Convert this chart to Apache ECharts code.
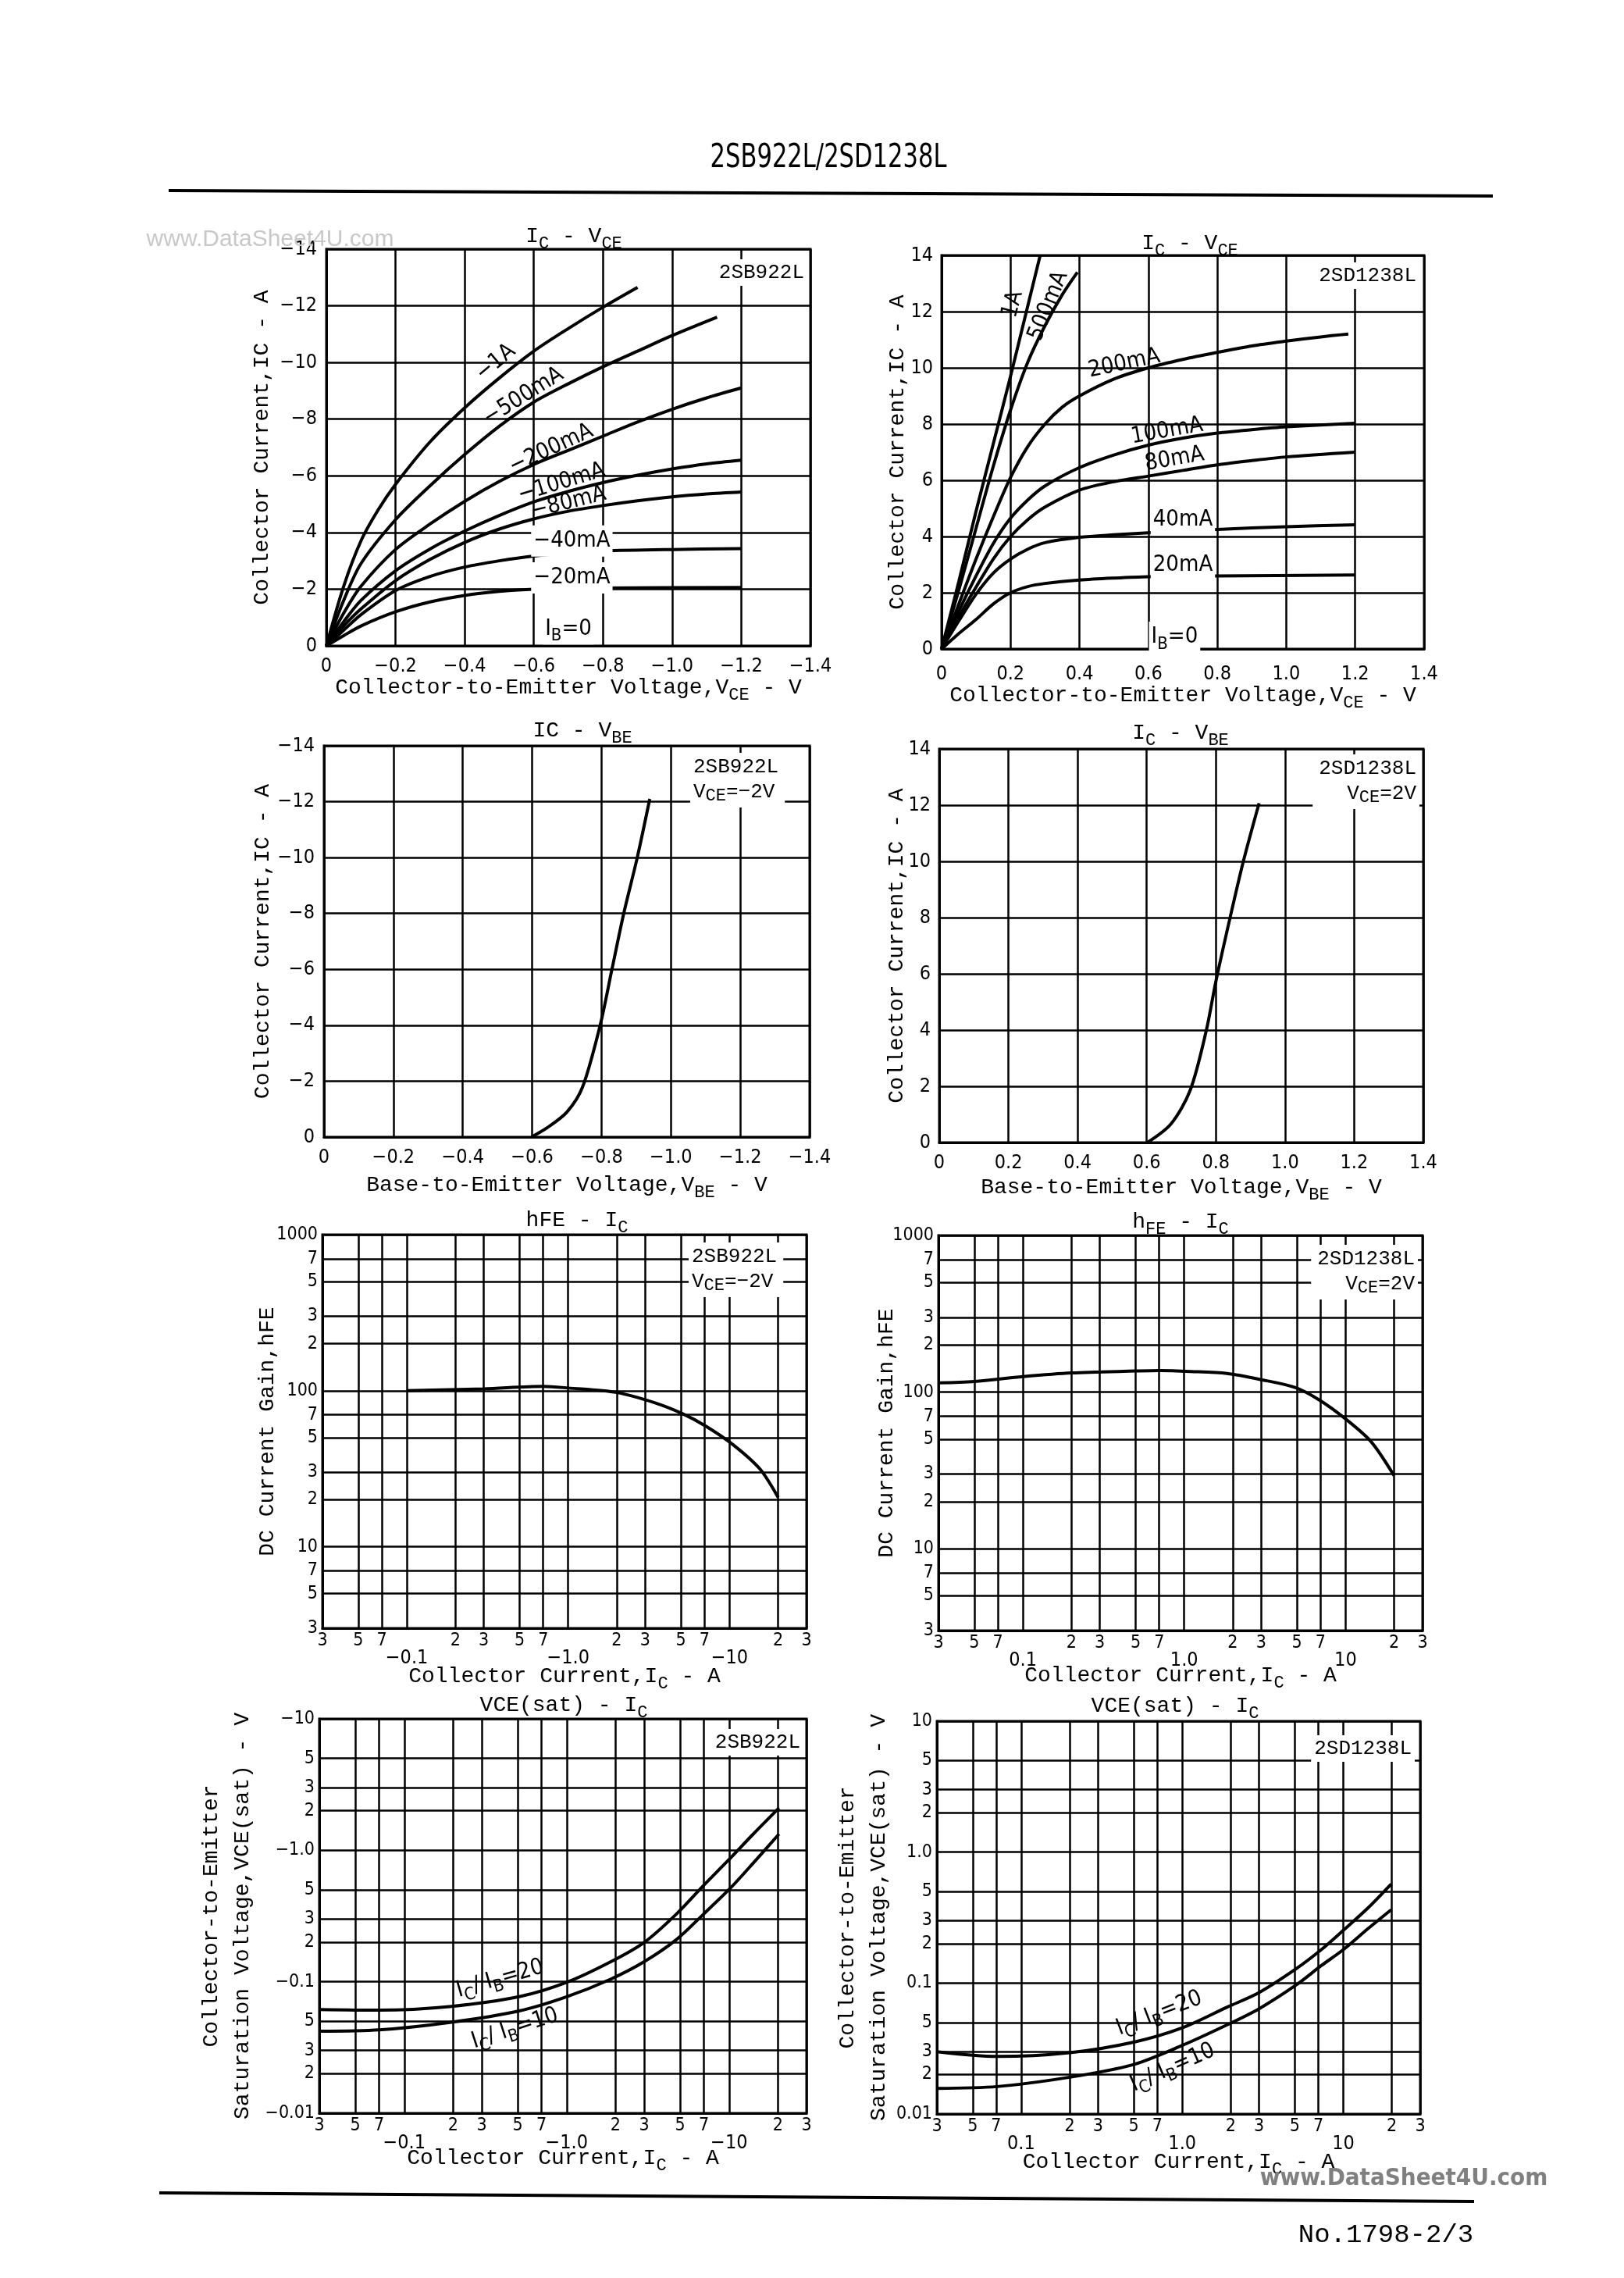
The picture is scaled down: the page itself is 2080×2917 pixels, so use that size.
<!DOCTYPE html>
<html>
<head>
<meta charset="utf-8">
<title>2SB922L/2SD1238L</title>
<script src="https://cdn.jsdelivr.net/npm/echarts@6.0.0/dist/echarts.min.js"></script>
<style>
  html, body { margin: 0; padding: 0; background: #fff; }
  #page { width: 2080px; height: 2917px; }
</style>
</head>
<body>
<div id="page"></div>
<script>
// ---------- values ----------

// 2SB922L  IC - VCE   [VCE (V), IC (A)]
const pnpVce1A    = [[0, 0], [-0.05, -2.1], [-0.1, -3.7], [-0.15, -4.8], [-0.2, -5.7], [-0.3, -7.2], [-0.4, -8.4], [-0.5, -9.45], [-0.6, -10.4], [-0.7, -11.2], [-0.8, -11.95], [-0.9, -12.65]];
const pnpVce500mA = [[0, 0], [-0.05, -1.6], [-0.1, -2.9], [-0.2, -4.45], [-0.3, -5.65], [-0.4, -6.75], [-0.5, -7.75], [-0.6, -8.6], [-0.7, -9.25], [-0.8, -9.85], [-0.9, -10.4], [-1.0, -10.95], [-1.13, -11.6]];
const pnpVce200mA = [[0, 0], [-0.05, -1.15], [-0.1, -2.1], [-0.2, -3.4], [-0.3, -4.3], [-0.4, -5.1], [-0.5, -5.8], [-0.6, -6.4], [-0.7, -6.9], [-0.8, -7.4], [-0.9, -7.9], [-1.0, -8.35], [-1.1, -8.75], [-1.2, -9.1]];
const pnpVce100mA = [[0, 0], [-0.05, -0.85], [-0.1, -1.6], [-0.2, -2.65], [-0.3, -3.42], [-0.4, -4.05], [-0.5, -4.6], [-0.6, -5.08], [-0.7, -5.45], [-0.8, -5.76], [-0.9, -6.02], [-1.0, -6.24], [-1.1, -6.42], [-1.2, -6.55]];
const pnpVce80mA  = [[0, 0], [-0.05, -0.7], [-0.1, -1.3], [-0.2, -2.3], [-0.3, -3.05], [-0.4, -3.65], [-0.5, -4.12], [-0.6, -4.48], [-0.7, -4.75], [-0.8, -4.95], [-0.9, -5.12], [-1.0, -5.26], [-1.1, -5.36], [-1.2, -5.43]];
const pnpVce40mA  = [[0, 0], [-0.05, -0.55], [-0.1, -1.1], [-0.2, -1.95], [-0.3, -2.45], [-0.4, -2.78], [-0.5, -3.0], [-0.6, -3.17], [-0.7, -3.28], [-0.8, -3.35], [-1.0, -3.4], [-1.2, -3.43]];
const pnpVce20mA  = [[0, 0], [-0.05, -0.36], [-0.1, -0.7], [-0.2, -1.2], [-0.3, -1.55], [-0.4, -1.78], [-0.5, -1.92], [-0.6, -2.0], [-0.8, -2.04], [-1.2, -2.06]];

// 2SD1238L  IC - VCE
const npnVce1A    = [[0, 0], [0.05, 2.4], [0.1, 4.9], [0.15, 7.3], [0.2, 9.7], [0.25, 12.2], [0.286, 14]];
const npnVce500mA = [[0, 0], [0.05, 2.1], [0.1, 4.3], [0.15, 6.5], [0.2, 8.5], [0.25, 10.2], [0.3, 11.5], [0.35, 12.6], [0.394, 13.4]];
const npnVce200mA = [[0, 0], [0.05, 1.6], [0.1, 3.2], [0.15, 4.7], [0.2, 6.1], [0.25, 7.2], [0.3, 8.0], [0.35, 8.6], [0.4, 9.0], [0.5, 9.6], [0.6, 10.0], [0.7, 10.3], [0.8, 10.55], [0.9, 10.78], [1.0, 10.95], [1.1, 11.1], [1.18, 11.2]];
const npnVce100mA = [[0, 0], [0.05, 1.35], [0.1, 2.6], [0.15, 3.75], [0.2, 4.65], [0.25, 5.3], [0.3, 5.8], [0.4, 6.45], [0.5, 6.9], [0.6, 7.25], [0.7, 7.5], [0.8, 7.68], [0.9, 7.8], [1.0, 7.9], [1.2, 8.03]];
const npnVce80mA  = [[0, 0], [0.05, 1.15], [0.1, 2.2], [0.15, 3.2], [0.2, 4.0], [0.25, 4.6], [0.3, 5.05], [0.4, 5.65], [0.5, 5.95], [0.6, 6.15], [0.7, 6.35], [0.8, 6.55], [0.9, 6.7], [1.0, 6.83], [1.2, 7.0]];
const npnVce40mA  = [[0, 0], [0.05, 1.0], [0.1, 1.95], [0.15, 2.7], [0.2, 3.2], [0.25, 3.55], [0.3, 3.78], [0.4, 3.97], [0.5, 4.06], [0.6, 4.13], [0.8, 4.25], [1.0, 4.35], [1.2, 4.42]];
const npnVce20mA  = [[0, 0], [0.05, 0.55], [0.1, 1.05], [0.15, 1.6], [0.2, 2.0], [0.25, 2.22], [0.3, 2.33], [0.4, 2.45], [0.5, 2.52], [0.6, 2.57], [0.8, 2.6], [1.2, 2.63]];

// IC - VBE   [VBE (V), IC (A)]
const pnpVbe = [[-0.598, 0], [-0.643, -0.33], [-0.7, -0.89], [-0.745, -1.78], [-0.796, -4.0], [-0.83, -6.0], [-0.864, -8.0], [-0.903, -10.0], [-0.939, -12.1]];
const npnVbe = [[0.602, 0], [0.67, 0.66], [0.726, 1.87], [0.772, 3.97], [0.8, 5.73], [0.84, 7.94], [0.879, 9.98], [0.925, 12.07]];

// hFE - IC  (|IC| in A)
const pnpHfeIc = [0.1, 0.3, 0.7, 1.0, 2.0, 3.45, 5.1, 7.1, 10.5, 15.5, 20];
const pnpHfe   = [100, 102.8, 106.6, 104, 97.3, 83.6, 71.3, 59.4, 45.1, 31.3, 20.7];
const npnHfeIc = [0.03, 0.05, 0.1, 0.2, 0.5, 0.7, 1.1, 1.84, 3.0, 4.86, 6.85, 10.2, 14.4, 20];
const npnHfe   = [114.6, 117, 125.6, 132.6, 136.3, 137.3, 135.4, 131.4, 120, 107, 89.2, 66.3, 48.2, 29.2];

// VCE(sat) - IC  (|IC| in A, |VCE(sat)| in V)
const pnpSatIc20 = [0.03, 0.07, 0.195, 0.51, 1.0, 1.87, 3.0, 4.76, 7.0, 9.8, 14.1, 20.3];
const pnpSat20   = [0.0615, 0.0608, 0.065, 0.077, 0.099, 0.142, 0.199, 0.329, 0.544, 0.83, 1.33, 2.1];
const pnpSatIc10 = [0.03, 0.07, 0.195, 0.51, 1.0, 1.86, 3.0, 4.76, 7.0, 10.2, 14.1, 20.3];
const pnpSat10   = [0.042, 0.043, 0.0492, 0.06, 0.0769, 0.1045, 0.142, 0.21, 0.329, 0.516, 0.8, 1.33];
const npnSatIc   = [0.03, 0.071, 0.2, 0.5, 1.0, 1.9, 3.0, 5.1, 7.3, 10, 14.2, 19.8];
const npnSat20   = [0.0299, 0.0275, 0.0294, 0.0354, 0.0455, 0.0655, 0.0846, 0.1287, 0.18, 0.253, 0.374, 0.57];
const npnSat10   = [0.0157, 0.0162, 0.0191, 0.0239, 0.0334, 0.048, 0.0637, 0.0968, 0.136, 0.18, 0.26, 0.363];

// tick values and labels
const currentTicks = [0.03, 0.05, 0.07, 0.1, 0.2, 0.3, 0.5, 0.7, 1, 2, 3, 5, 7, 10, 20, 30];
const currentDecades = [0.1, 1, 10];
const pnpCurrentDecadeLabels = ['−0.1', '−1.0', '−10'];
const npnCurrentDecadeLabels = ['0.1', '1.0', '10'];
const hfeTicks = [3, 5, 7, 10, 20, 30, 50, 70, 100, 200, 300, 500, 700, 1000];
const hfeDecades = [10, 100, 1000];
const hfeDecadeLabels = ['10', '100', '1000'];
const satTicks = [0.01, 0.02, 0.03, 0.05, 0.1, 0.2, 0.3, 0.5, 1, 2, 3, 5, 10];
const satDecades = [0.01, 0.1, 1, 10];
const pnpSatDecadeLabels = ['−0.01', '−0.1', '−1.0', '−10'];
const npnSatDecadeLabels = ['0.01', '0.1', '1.0', '10'];

// ---------- look ----------
const INK = '#000';
const NUM_FONT = "'DejaVu Sans Condensed','Liberation Sans Narrow','Liberation Sans',sans-serif";
const TXT_FONT = "'Liberation Mono','DejaVu Sans Mono',monospace";
const SANS = "'Liberation Sans','DejaVu Sans',sans-serif";

// plot rectangles on the page: [left, top, width, height]
const plots = [
  [418, 319, 620, 508],
  [1206, 327, 618, 504],
  [415, 955, 622, 501],
  [1203, 959, 620, 504],
  [413, 1581, 620, 504],
  [1202, 1582, 620, 506],
  [409, 2201, 624, 505],
  [1200, 2204, 619, 503]
];

const lg = Math.log10;

// subscript token: smaller, pushed to the bottom of the line
function richFor(lh, font) {
  return { s: { fontFamily: font || TXT_FONT, fontSize: 22, lineHeight: Math.round(lh * 0.58), verticalAlign: 'bottom', color: INK } };
}

function leadDigit(v) {
  const r = Math.pow(10, v);
  const e = Math.floor(Math.log10(r) + 1e-9);
  return String(Math.round(r / Math.pow(10, e)));
}

function decadeFmt(decades, labels) {
  return function (v) {
    const i = decades.findIndex(d => Math.abs(lg(d) - v) < 1e-6);
    return i >= 0 ? labels[i] : leadDigit(v);
  };
}

const negFix = v => (v === 0 ? '0' : '−' + Math.abs(v).toFixed(1));
const negInt = v => (v === 0 ? '0' : '−' + Math.abs(Math.round(v)));
const posFix = v => (v === 0 ? '0' : v.toFixed(1));
const posInt = v => String(Math.round(v));

function axisBase(gridIndex) {
  return {
    gridIndex: gridIndex,
    type: 'value',
    axisLine: { show: true, onZero: false, lineStyle: { color: INK, width: 3 } },
    axisTick: { show: false },
    splitLine: { show: true, lineStyle: { color: INK, width: 2.5 } },
    axisLabel: { color: INK, fontFamily: NUM_FONT, fontSize: 25 },
    nameLocation: 'middle',
    nameMoveOverlap: false,
    nameTextStyle: { color: INK, fontFamily: TXT_FONT, fontSize: 28, lineHeight: 40, rich: richFor(40) }
  };
}

function linAxis(gridIndex, min, max, step, inverse, fmt, margin, name, nameGap, vertical) {
  const a = axisBase(gridIndex);
  a.min = min;
  a.max = max;
  a.interval = step;
  a.inverse = inverse;
  a.axisLabel.formatter = fmt;
  a.axisLabel.margin = margin;
  if (name) {
    a.name = name;
    a.nameGap = nameGap;
    if (vertical) a.nameRotate = 90;
  }
  return a;
}

function logAxis(gridIndex, ticks, labelTicks, fmt, margin, name, nameGap, vertical) {
  const a = axisBase(gridIndex);
  a.min = lg(ticks[0]);
  a.max = lg(ticks[ticks.length - 1]);
  a.axisTick.customValues = ticks.map(lg);
  a.axisLabel.customValues = labelTicks.map(lg);
  a.axisLabel.formatter = fmt;
  a.axisLabel.margin = margin;
  a.axisLabel.fontSize = 23;
  if (name) {
    a.name = name;
    a.nameGap = nameGap;
    if (vertical) a.nameRotate = 90;
  }
  return a;
}

// second row under a log axis: the decade labels
function decadeAxis(gridIndex, ticks, decades, labels) {
  return {
    gridIndex: gridIndex,
    type: 'value',
    position: 'bottom',
    offset: 21,
    min: lg(ticks[0]),
    max: lg(ticks[ticks.length - 1]),
    axisLine: { show: false },
    axisTick: { show: false },
    splitLine: { show: false },
    axisLabel: {
      color: INK, fontFamily: NUM_FONT, fontSize: 25, margin: 5,
      customValues: decades.map(lg),
      formatter: decadeFmt(decades, labels)
    }
  };
}

const notDecade = (ticks, decades) => ticks.filter(t => decades.indexOf(t) < 0);

const xAxes = [
  linAxis(0, -1.4, 0, 0.2, true, negFix, 14, 'Collector-to-Emitter Voltage,V{s|CE} - V', 34),
  linAxis(1, 0, 1.4, 0.2, false, posFix, 20, 'Collector-to-Emitter Voltage,V{s|CE} - V', 40),
  linAxis(2, -1.4, 0, 0.2, true, negFix, 14, 'Base-to-Emitter Voltage,V{s|BE} - V', 42),
  linAxis(3, 0, 1.4, 0.2, false, posFix, 14, 'Base-to-Emitter Voltage,V{s|BE} - V', 38),
  logAxis(4, currentTicks, notDecade(currentTicks, currentDecades), leadDigit, 5, 'Collector Current,I{s|C} - A', 42),
  decadeAxis(4, currentTicks, currentDecades, pnpCurrentDecadeLabels),
  logAxis(5, currentTicks, notDecade(currentTicks, currentDecades), leadDigit, 5, 'Collector Current,I{s|C} - A', 38),
  decadeAxis(5, currentTicks, currentDecades, npnCurrentDecadeLabels),
  logAxis(6, currentTicks, notDecade(currentTicks, currentDecades), leadDigit, 5, 'Collector Current,I{s|C} - A', 38),
  decadeAxis(6, currentTicks, currentDecades, pnpCurrentDecadeLabels),
  logAxis(7, currentTicks, notDecade(currentTicks, currentDecades), leadDigit, 5, 'Collector Current,I{s|C} - A', 42),
  decadeAxis(7, currentTicks, currentDecades, npnCurrentDecadeLabels)
];

const yAxes = [
  linAxis(0, -14, 0, 2, true, negInt, 12, 'Collector Current,IC - A', 62, true),
  linAxis(1, 0, 14, 2, false, posInt, 11, 'Collector Current,IC - A', 36, true),
  linAxis(2, -14, 0, 2, true, negInt, 12, 'Collector Current,IC - A', 58, true),
  linAxis(3, 0, 14, 2, false, posInt, 11, 'Collector Current,IC - A', 34, true),
  logAxis(4, hfeTicks, hfeTicks, decadeFmt(hfeDecades, hfeDecadeLabels), 6, 'DC Current Gain,hFE', 50, true),
  logAxis(5, hfeTicks, hfeTicks, decadeFmt(hfeDecades, hfeDecadeLabels), 6, 'DC Current Gain,hFE', 46, true),
  logAxis(6, satTicks, satTicks, decadeFmt(satDecades, pnpSatDecadeLabels), 6, 'Collector-to-Emitter\nSaturation Voltage,VCE(sat) - V', 78, true),
  logAxis(7, satTicks, satTicks, decadeFmt(satDecades, npnSatDecadeLabels), 6, 'Collector-to-Emitter\nSaturation Voltage,VCE(sat) - V', 54, true)
];

function curve(xi, yi, data) {
  return {
    type: 'line', xAxisIndex: xi, yAxisIndex: yi, data: data,
    symbol: 'none', smooth: 0.3, silent: true, z: 5,
    lineStyle: { color: INK, width: 4 }
  };
}
const logPairs = (xs, ys) => xs.map((x, i) => [lg(x), lg(ys[i])]);

const series = [
  curve(0, 0, pnpVce1A), curve(0, 0, pnpVce500mA), curve(0, 0, pnpVce200mA), curve(0, 0, pnpVce100mA),
  curve(0, 0, pnpVce80mA), curve(0, 0, pnpVce40mA), curve(0, 0, pnpVce20mA),
  curve(1, 1, npnVce1A), curve(1, 1, npnVce500mA), curve(1, 1, npnVce200mA), curve(1, 1, npnVce100mA),
  curve(1, 1, npnVce80mA), curve(1, 1, npnVce40mA), curve(1, 1, npnVce20mA),
  curve(2, 2, pnpVbe),
  curve(3, 3, npnVbe),
  curve(4, 4, logPairs(pnpHfeIc, pnpHfe)),
  curve(6, 5, logPairs(npnHfeIc, npnHfe)),
  curve(8, 6, logPairs(pnpSatIc20, pnpSat20)),
  curve(8, 6, logPairs(pnpSatIc10, pnpSat10)),
  curve(10, 7, logPairs(npnSatIc, npnSat20)),
  curve(10, 7, logPairs(npnSatIc, npnSat10))
];

const option = {
  animation: false,
  backgroundColor: '#fff',
  grid: plots.map(p => ({
    left: p[0], top: p[1], width: p[2], height: p[3],
    show: true, borderColor: INK, borderWidth: 3
  })),
  xAxis: xAxes,
  yAxis: yAxes,
  series: series
};

const chart = echarts.init(document.getElementById('page'), null, { renderer: 'canvas' });
chart.setOption(option);

// ---------- texts ----------
function label(x, y, text, o) {
  o = o || {};
  const lh = o.lh || 40;
  return {
    type: 'text', x: x, y: y, z: 100,
    rotation: (o.rot || 0) * Math.PI / 180,
    scaleY: o.sy || 1,
    silent: true,
    style: {
      text: text,
      fill: o.color || INK,
      fontFamily: o.font || TXT_FONT,
      fontSize: o.size || 28,
      fontWeight: o.weight || 'normal',
      lineHeight: lh,
      align: o.align || 'center',
      verticalAlign: o.valign || 'middle',
      backgroundColor: o.bg,
      padding: o.pad,
      rich: richFor(lh, o.font)
    }
  };
}

const graphics = [
  { type: 'line', silent: true, shape: { x1: 216, y1: 244, x2: 1912, y2: 251 }, style: { stroke: INK, lineWidth: 4 } },
  { type: 'line', silent: true, shape: { x1: 204, y1: 2808, x2: 1888, y2: 2819 }, style: { stroke: INK, lineWidth: 4 } },
  label(1061, 203, '2SB922L/2SD1238L', { font: NUM_FONT, size: 34, sy: 1.25 }),
  label(1775, 2862, 'No.1798-2/3', { size: 34 }),
  label(346, 307, 'www.DataSheet4U.com', { font: SANS, size: 30, color: '#c8c8c8' }),
  label(1798, 2790, 'www.DataSheet4U.com', { font: NUM_FONT, size: 31, weight: 'bold', color: '#808080' }),

  // chart titles
  label(735, 303, 'I{s|C} - V{s|CE}'),
  label(1524, 312, 'I{s|C} - V{s|CE}'),
  label(746, 936, 'IC - V{s|BE}'),
  label(1512, 939, 'I{s|C} - V{s|BE}'),
  label(739, 1563, 'hFE - I{s|C}'),
  label(1512, 1565, 'h{s|FE} - I{s|C}'),
  label(722, 2184, 'VCE(sat) - I{s|C}'),
  label(1505, 2185, 'VCE(sat) - I{s|C}'),

  // device boxes
  label(1034, 332, '2SB922L', { size: 26, align: 'right', valign: 'top', bg: '#fff', pad: [2, 4], lh: 30 }),
  label(1818, 336, '2SD1238L', { size: 26, align: 'right', valign: 'top', bg: '#fff', pad: [2, 4], lh: 30 }),
  label(884, 964, '2SB922L\nV{s|CE}=−2V', { size: 26, align: 'left', valign: 'top', bg: '#fff', pad: [2, 8, 4, 4], lh: 32 }),
  label(1818, 966, '2SD1238L\nV{s|CE}=2V', { size: 26, align: 'right', valign: 'top', bg: '#fff', pad: [2, 4, 4, 8], lh: 32 }),
  label(882, 1591, '2SB922L\nV{s|CE}=−2V', { size: 26, align: 'left', valign: 'top', bg: '#fff', pad: [2, 8, 4, 4], lh: 32 }),
  label(1816, 1594, '2SD1238L\nV{s|CE}=2V', { size: 26, align: 'right', valign: 'top', bg: '#fff', pad: [2, 4, 4, 8], lh: 32 }),
  label(1029, 2214, '2SB922L', { size: 26, align: 'right', valign: 'top', bg: '#fff', pad: [2, 4], lh: 30 }),
  label(1812, 2222, '2SD1238L', { size: 26, align: 'right', valign: 'top', bg: '#fff', pad: [2, 4], lh: 30 })
];

// curve labels, placed in data units
const curveNotes = [
  { xi: 0, yi: 0, at: [-0.49, -10.0], text: '−1A', rot: 40 },
  { xi: 0, yi: 0, at: [-0.57, -8.8], text: '−500mA', rot: 32 },
  { xi: 0, yi: 0, at: [-0.65, -6.95], text: '−200mA', rot: 25 },
  { xi: 0, yi: 0, at: [-0.68, -5.75], text: '−100mA', rot: 17 },
  { xi: 0, yi: 0, at: [-0.70, -5.05], text: '−80mA', rot: 14 },
  { xi: 0, yi: 0, at: [-0.71, -3.7], text: '−40mA', rot: 0, bg: true },
  { xi: 0, yi: 0, at: [-0.71, -2.4], text: '−20mA', rot: 0, bg: true },
  { xi: 0, yi: 0, at: [-0.70, -0.6], text: 'I{s|B}=0', rot: 0, bg: true },
  { xi: 1, yi: 1, at: [0.207, 12.26], text: '1A', rot: 75 },
  { xi: 1, yi: 1, at: [0.31, 12.2], text: '500mA', rot: 68 },
  { xi: 1, yi: 1, at: [0.53, 10.15], text: '200mA', rot: 12 },
  { xi: 1, yi: 1, at: [0.654, 7.75], text: '100mA', rot: 10 },
  { xi: 1, yi: 1, at: [0.676, 6.75], text: '80mA', rot: 10 },
  { xi: 1, yi: 1, at: [0.70, 4.6], text: '40mA', rot: 0, bg: true },
  { xi: 1, yi: 1, at: [0.70, 3.0], text: '20mA', rot: 0, bg: true },
  { xi: 1, yi: 1, at: [0.676, 0.42], text: 'I{s|B}=0', rot: 0, bg: true },
  { xi: 8, yi: 6, at: [0.39, 0.105], log: true, text: 'I{s|C}/ I{s|B}=20', rot: 16 },
  { xi: 8, yi: 6, at: [0.48, 0.044], log: true, text: 'I{s|C}/ I{s|B}=10', rot: 18 },
  { xi: 10, yi: 7, at: [0.72, 0.0586], log: true, text: 'I{s|C}/ I{s|B}=20', rot: 21 },
  { xi: 10, yi: 7, at: [0.873, 0.0226], log: true, text: 'I{s|C}/ I{s|B}=10', rot: 24 }
];

curveNotes.forEach(n => {
  const v = n.log ? [lg(n.at[0]), lg(n.at[1])] : n.at;
  const p = chart.convertToPixel({ xAxisIndex: n.xi, yAxisIndex: n.yi }, v);
  graphics.push(label(p[0], p[1], n.text, {
    font: NUM_FONT, size: 29, rot: n.rot,
    bg: n.bg ? '#fff' : undefined, pad: n.bg ? [0, 3] : undefined
  }));
});

chart.setOption({ graphic: graphics });
</script>
</body>
</html>
